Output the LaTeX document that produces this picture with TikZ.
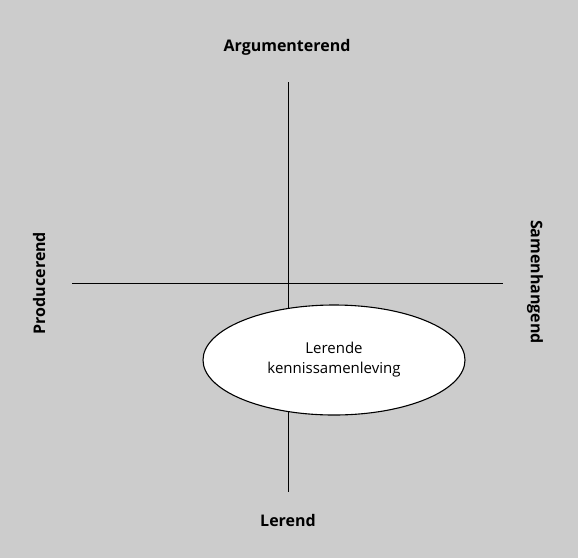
\documentclass[tikz,border=0pt]{standalone}
\usepackage{fontspec}
\setmainfont{Open Sans}
\usetikzlibrary{shapes.geometric}
\definecolor{bgstip}{gray}{0.80}
\tikzset{
  axis/.style={line width=0.9pt, black},
  axislabel/.style={font=\bfseries\fontsize{16}{18}\selectfont, inner sep=0pt, anchor=center},
  centre/.style={ellipse, draw, line width=1.1pt, fill=white, minimum width=262pt, minimum height=110pt, inner sep=0pt, align=center, font=\fontsize{15}{20}\selectfont}
}
\begin{document}
\begin{tikzpicture}[x=1pt,y=-1pt]
\fill[bgstip] (0,0) rectangle (578,558);
\useasboundingbox (0,0) rectangle (578,558);
\coordinate (vtop) at (288,82);
\coordinate (vbot) at (288,492);
\coordinate (hleft) at (72,283);
\coordinate (hright) at (503,283);
\draw[axis] (vtop) -- (vbot);
\draw[axis] (hleft) -- (hright);
\node[centre] (c) at (334,360) {Lerende\\kennissamenleving};
\node[axislabel] (top) at (287,47) {Argumenterend};
\node[axislabel] (bot) at (288,520) {Lerend};
\node[axislabel, rotate=90] (left) at (39,283) {Producerend};
\node[axislabel, rotate=-90] (right) at (535,282) {Samenhangend};
\end{tikzpicture}
\end{document}
